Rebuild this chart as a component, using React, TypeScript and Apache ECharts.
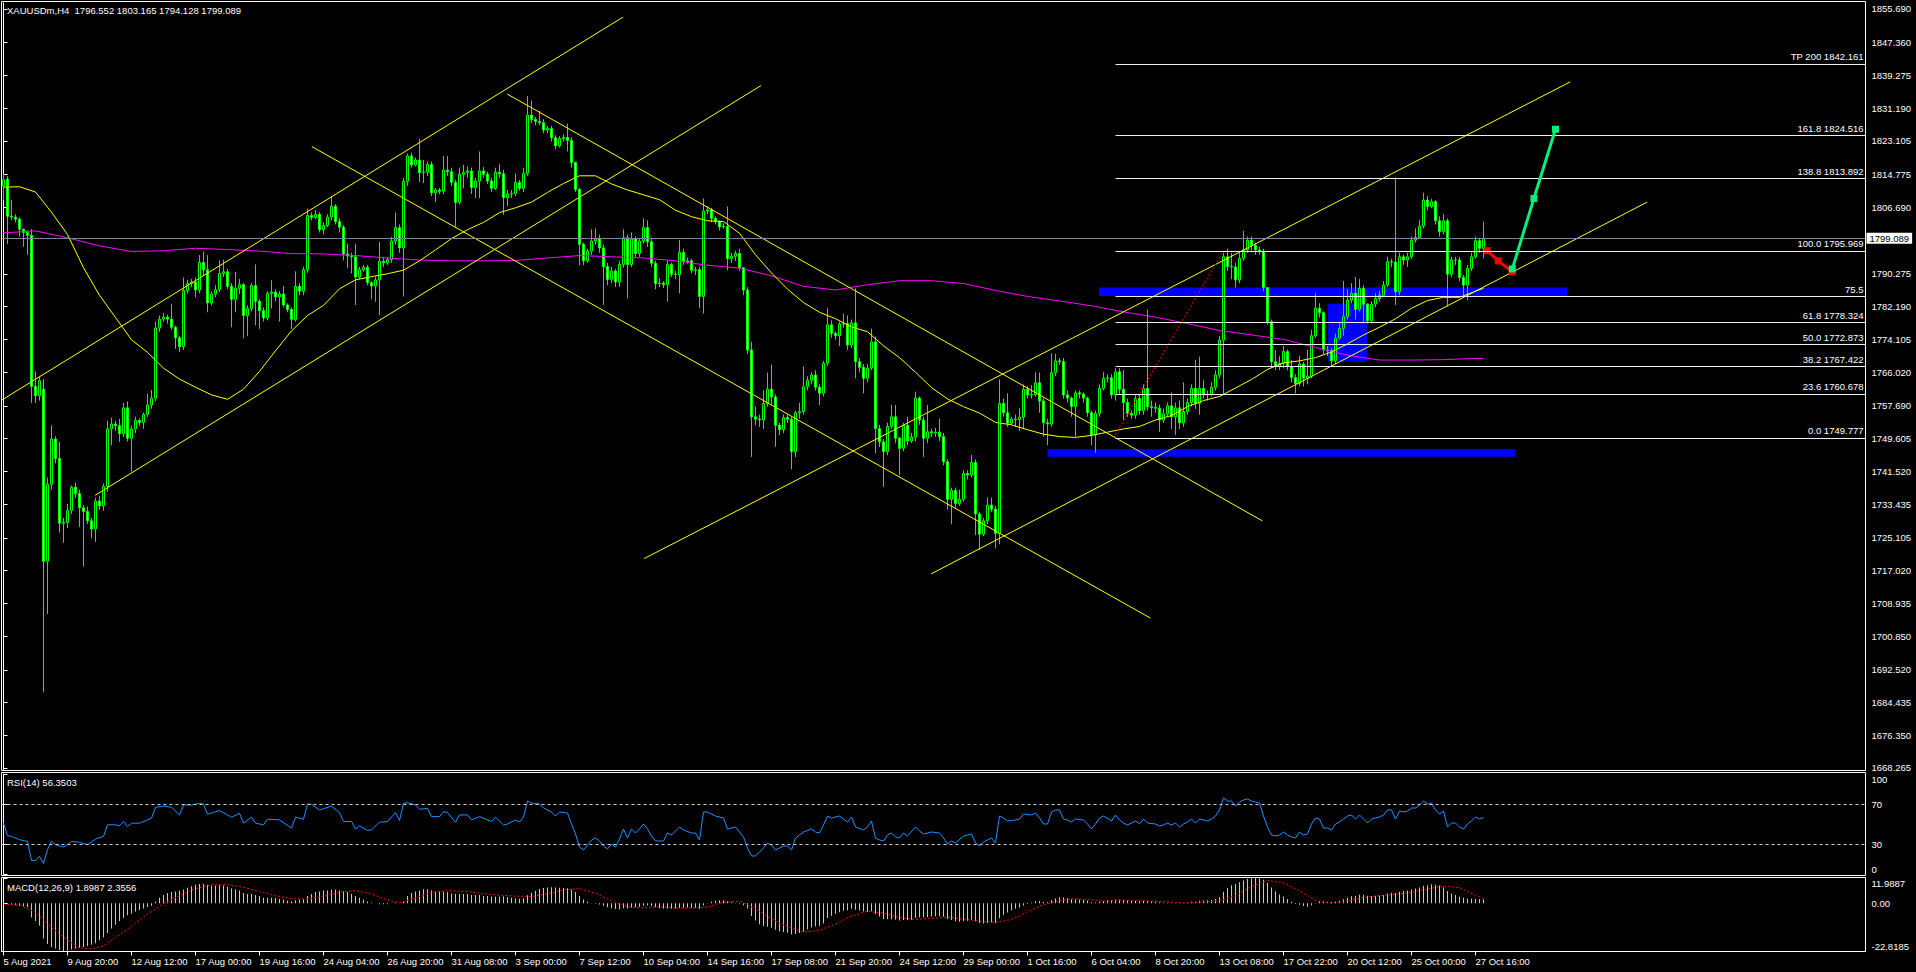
import React, { useEffect, useRef } from 'react';
import * as echarts from 'echarts';

const SYMBOL = 'XAUUSDm,H4';
const LAST_OHLC = ['1796.552', '1803.165', '1794.128', '1799.089'];
const CURRENT_PRICE = 1799.089;
const RSI_LAST = '56.3503';
const MACD_LAST = ['1.8987', '2.3556'];

const TIME_LABELS = ['5 Aug 2021', '9 Aug 20:00', '12 Aug 12:00', '17 Aug 00:00', '19 Aug 16:00', '24 Aug 04:00', '26 Aug 20:00', '31 Aug 08:00', '3 Sep 00:00', '7 Sep 12:00', '10 Sep 04:00', '14 Sep 16:00', '17 Sep 08:00', '21 Sep 20:00', '24 Sep 12:00', '29 Sep 00:00', '1 Oct 16:00', '6 Oct 04:00', '8 Oct 20:00', '13 Oct 08:00', '17 Oct 22:00', '20 Oct 12:00', '25 Oct 00:00', '27 Oct 16:00'];
const BARS_PER_LABEL = 16;
const TOTAL_SLOTS = 466;

const PRICE_TICKS = [1855.690, 1847.360, 1839.275, 1831.190, 1823.105, 1814.775, 1806.690, 1790.275, 1782.190, 1774.105, 1766.020, 1757.690, 1749.605, 1741.520, 1733.435, 1725.105, 1717.020, 1708.935, 1700.850, 1692.520, 1684.435, 1676.350, 1668.265];
const PRICE_MIN = 1667.77;
const PRICE_MAX = 1857.17;
const RSI_TICKS = [0, 30, 70, 100];
const RSI_LEVELS = [70, 30];
const MACD_MIN = -22.8185;
const MACD_MAX = 11.9887;

// [open, close, low, high]
const CANDLES_A = [
  [1812.0,1813.5,1808.6,1815.0],[1813.7,1804.5,1797.7,1814.5],[1804.5,1804.3,1803.6,1808.6],[1804.3,1803.8,1803.0,1805.0],[1803.8,1801.3,1799.5,1804.2],
  [1801.3,1800.5,1797.0,1801.5],[1800.5,1799.8,1795.0,1801.0],[1799.8,1762.5,1758.4,1801.3],[1762.5,1760.2,1758.4,1766.2],[1760.2,1763.9,1759.0,1764.9],
  [1761.8,1719.3,1687.0,1764.3],[1719.3,1738.3,1706.3,1740.0],[1738.3,1749.5,1737.0,1752.9],[1749.5,1744.7,1743.5,1750.2],[1744.7,1728.7,1726.4,1748.8],
  [1728.7,1728.9,1723.9,1730.0],[1728.9,1731.9,1727.5,1733.5],[1731.9,1737.6,1731.0,1738.0],[1737.6,1736.0,1735.0,1738.8],[1736.0,1732.5,1727.8,1737.0],
  [1732.5,1731.6,1718.0,1733.2],[1731.6,1729.3,1728.5,1732.8],[1729.3,1727.3,1725.0,1730.0],[1727.3,1734.2,1724.1,1735.0],[1734.2,1733.0,1732.0,1735.5],
  [1733.0,1737.8,1731.8,1738.5],[1737.8,1752.0,1736.5,1754.0],[1752.0,1753.2,1748.0,1754.8],[1753.2,1752.8,1751.5,1754.0],[1752.8,1750.8,1748.8,1754.5],
  [1750.8,1757.2,1750.0,1758.4],[1757.2,1749.7,1748.9,1758.8],[1749.7,1752.0,1741.5,1752.8],[1752.0,1754.1,1751.0,1755.0],[1754.1,1753.6,1752.8,1754.6],
  [1753.6,1755.6,1752.0,1756.0],[1755.6,1757.9,1755.0,1760.7],[1757.9,1759.6,1757.0,1761.6],[1759.6,1776.9,1758.8,1778.5],[1776.9,1779.1,1776.0,1780.0],
  [1779.1,1779.6,1778.5,1780.6],[1779.6,1779.1,1778.0,1780.2],[1779.1,1777.1,1776.5,1782.9],[1777.1,1774.5,1771.8,1777.5],[1774.5,1772.3,1771.0,1775.0],
  [1772.3,1786.2,1771.5,1789.4],[1786.2,1787.9,1785.5,1788.8],[1787.9,1788.3,1787.0,1789.0],[1788.3,1786.3,1784.5,1789.4],[1786.3,1793.1,1785.5,1794.9],
  [1793.1,1791.3,1790.0,1795.8],[1791.3,1783.1,1780.8,1794.9],[1783.1,1785.3,1782.5,1786.0],[1785.3,1786.4,1784.5,1787.5],[1786.4,1790.4,1785.8,1793.6],
  [1790.4,1790.8,1789.5,1793.8],[1790.8,1787.2,1786.5,1791.5],[1787.2,1784.0,1777.1,1788.0],[1784.0,1786.7,1780.8,1790.8],[1786.7,1787.6,1785.3,1789.0],
  [1787.6,1780.0,1774.4,1788.0],[1780.0,1781.7,1775.0,1782.5],[1781.7,1787.4,1781.0,1788.0],[1787.4,1783.5,1777.6,1792.6],[1783.5,1781.2,1776.7,1784.0],
  [1781.2,1779.4,1778.5,1782.0],[1779.4,1785.5,1778.8,1786.0],[1785.5,1785.8,1781.7,1788.7],[1785.8,1784.6,1783.5,1786.5],[1784.6,1785.3,1778.5,1786.0],
  [1785.3,1782.6,1782.0,1787.2],[1782.6,1781.5,1780.8,1783.0],[1781.5,1779.0,1776.7,1782.0],[1779.0,1787.2,1778.5,1790.9],[1787.2,1786.0,1785.0,1788.0],
  [1786.0,1791.3,1785.0,1792.0],[1791.3,1804.7,1790.5,1806.4],[1804.7,1804.2,1803.5,1805.5],[1804.2,1805.0,1803.8,1806.0],[1805.0,1801.2,1800.5,1805.5],
  [1801.2,1802.2,1800.0,1803.0],[1802.2,1804.3,1801.8,1805.0],[1804.3,1807.0,1803.5,1809.5],[1807.0,1803.2,1802.5,1807.5],[1803.2,1801.8,1800.5,1804.0],
  [1801.8,1795.2,1793.6,1802.3],[1795.2,1794.7,1791.7,1797.7],[1794.7,1794.5,1790.4,1795.5],[1794.5,1789.5,1782.6,1797.7],[1789.5,1791.3,1789.0,1792.0],
  [1791.3,1791.9,1790.8,1792.5],[1791.9,1788.1,1787.5,1792.5],[1788.1,1787.3,1784.0,1788.5]
];
const CANDLES_B = [
  [1787.3,1788.8,1783.4,1789.5],[1788.8,1793.4,1780.1,1798.2],[1793.4,1793.0,1792.0,1794.5],[1793.0,1793.8,1792.5,1794.5],[1793.8,1798.4,1793.0,1799.4],
  [1798.4,1801.7,1797.5,1805.4],[1801.7,1796.7,1795.5,1802.5],[1796.7,1813.1,1784.7,1814.0],[1813.1,1819.4,1812.0,1820.0],[1819.4,1817.2,1816.5,1820.2],
  [1817.2,1818.4,1816.8,1819.0],[1818.4,1815.3,1813.0,1823.6],[1815.3,1815.4,1812.7,1818.4],[1815.4,1817.3,1814.5,1818.0],[1817.3,1810.3,1809.5,1818.0],
  [1810.3,1811.0,1808.0,1811.5],[1811.0,1810.7,1810.0,1811.5],[1810.7,1815.9,1810.0,1819.4],[1815.9,1815.5,1814.5,1819.4],[1815.5,1812.9,1812.0,1816.5],
  [1812.9,1807.9,1801.9,1813.5],[1807.9,1814.9,1807.5,1816.5],[1814.9,1815.3,1811.4,1817.2],[1815.3,1815.7,1814.0,1816.8],[1815.7,1811.6,1810.0,1816.5],
  [1811.6,1813.2,1809.0,1814.0],[1813.2,1815.7,1809.0,1820.5],[1815.7,1814.9,1814.0,1816.7],[1814.9,1813.2,1812.5,1815.5],[1813.2,1811.4,1810.5,1814.0],
  [1811.4,1815.4,1811.0,1816.5],[1815.4,1815.0,1814.0,1817.4],[1815.0,1809.1,1804.9,1816.0],[1809.1,1810.0,1807.0,1811.0],[1810.0,1810.1,1809.0,1811.0],
  [1810.1,1812.9,1809.5,1815.1],[1812.9,1811.4,1810.8,1813.5],[1811.4,1815.1,1810.5,1816.5],[1815.1,1829.5,1814.5,1834.2],[1829.5,1828.4,1827.5,1833.0],
  [1828.4,1827.9,1827.0,1829.0],[1827.9,1827.6,1827.0,1830.5],[1827.6,1825.8,1825.0,1828.5],[1825.8,1826.2,1825.0,1826.8],[1826.2,1823.9,1823.0,1826.8],
  [1823.9,1821.9,1821.0,1824.5],[1821.9,1823.7,1821.5,1824.3],[1823.7,1824.0,1823.0,1824.8],[1824.0,1823.2,1820.5,1827.4],[1823.2,1817.8,1816.5,1824.0],
  [1817.8,1811.1,1810.5,1818.0],[1811.1,1797.6,1792.4,1811.5],[1797.6,1793.5,1792.5,1798.0],[1793.5,1795.9,1793.0,1796.5],[1795.9,1798.4,1795.0,1801.3],
  [1798.4,1799.1,1797.5,1801.5],[1799.1,1796.7,1795.5,1800.0],[1796.7,1792.1,1782.6,1797.5],[1792.1,1788.9,1787.5,1793.0],[1788.9,1791.0,1788.0,1792.0],
  [1791.0,1788.3,1787.0,1791.5],[1788.3,1792.6,1787.1,1793.5],[1792.6,1799.2,1791.8,1801.3],[1799.2,1792.6,1784.2,1800.0],[1792.6,1798.9,1792.0,1800.5],
  [1798.9,1795.3,1794.5,1799.5],[1795.3,1798.4,1794.5,1799.0],[1798.4,1801.7,1797.8,1804.0],[1801.7,1798.2,1797.0,1803.5],[1798.2,1792.9,1792.0,1799.0],
  [1792.9,1787.9,1786.5,1793.5],[1787.9,1788.0,1787.0,1789.2],[1788.0,1787.6,1786.8,1788.5],[1787.6,1792.6,1783.4,1793.5],[1792.6,1790.2,1789.5,1793.0],
  [1790.2,1790.1,1789.0,1791.0],[1790.1,1795.6,1785.5,1798.6],[1795.6,1793.3,1792.5,1796.5],[1793.3,1793.5,1792.8,1794.3],[1793.5,1791.2,1790.5,1794.0],
  [1791.2,1791.3,1790.0,1792.0],[1791.3,1784.7,1781.9,1792.0],[1784.7,1805.8,1780.5,1808.9],[1805.8,1806.1,1805.0,1807.0],[1806.1,1804.0,1803.0,1806.5],
  [1804.0,1803.2,1802.5,1804.5],[1803.2,1801.9,1801.0,1803.5],[1801.9,1802.0,1801.5,1802.8],[1802.0,1794.1,1791.2,1806.9],[1794.1,1794.6,1793.0,1795.5],
  [1794.6,1795.3,1793.5,1796.0],[1795.3,1791.8,1791.0,1796.5],[1791.8,1786.3,1785.0,1792.0],[1786.3,1771.5,1770.5,1787.0]
];
const CANDLES_C = [
  [1771.5,1755.0,1745.1,1773.5],[1755.0,1754.4,1753.0,1757.5],[1754.4,1754.2,1752.5,1755.5],[1754.2,1758.3,1752.0,1761.5],[1758.3,1761.8,1757.5,1765.9],
  [1761.8,1759.9,1758.0,1767.8],[1759.9,1752.9,1747.6,1760.5],[1752.9,1751.8,1750.5,1753.5],[1751.8,1754.8,1751.0,1755.5],[1754.8,1754.4,1753.5,1755.5],
  [1754.4,1746.4,1742.0,1755.0],[1746.4,1756.0,1745.0,1756.5],[1756.0,1756.3,1754.5,1758.4],[1756.3,1762.4,1755.5,1767.4],[1762.4,1764.0,1761.5,1765.0],
  [1764.0,1765.3,1763.0,1766.0],[1765.3,1762.3,1761.5,1766.5],[1762.3,1760.8,1757.9,1763.0],[1760.8,1768.2,1760.0,1768.8],[1768.2,1777.7,1767.5,1781.8],
  [1777.7,1775.6,1774.5,1778.8],[1775.6,1775.0,1774.0,1776.0],[1775.0,1777.9,1772.5,1778.5],[1777.9,1778.0,1777.0,1780.5],[1778.0,1772.7,1771.5,1780.0],
  [1772.7,1778.2,1772.0,1779.0],[1778.2,1768.6,1764.5,1786.7],[1768.6,1767.2,1766.0,1769.5],[1767.2,1764.5,1760.8,1768.0],[1764.5,1767.0,1763.5,1768.0],
  [1767.0,1773.5,1766.5,1776.8],[1773.5,1752.1,1746.0,1774.8],[1752.1,1748.8,1747.5,1753.0],[1748.8,1746.4,1737.7,1749.5],[1746.4,1752.6,1745.5,1753.5],
  [1752.6,1755.0,1752.0,1757.9],[1755.0,1749.7,1748.5,1757.9],[1749.7,1747.2,1740.6,1750.0],[1747.2,1752.9,1746.5,1753.5],[1752.9,1749.0,1748.0,1755.0],
  [1749.0,1750.0,1748.5,1751.0],[1750.0,1759.6,1749.0,1761.2],[1759.6,1754.2,1753.0,1760.0],[1754.2,1749.7,1745.1,1755.0],[1749.7,1751.3,1748.5,1757.9],
  [1751.3,1751.0,1750.0,1752.0],[1751.0,1751.2,1750.0,1752.2],[1751.2,1750.1,1749.0,1754.6],[1750.1,1743.9,1743.0,1751.0],[1743.9,1734.6,1732.1,1744.5],
  [1734.6,1736.8,1728.5,1737.5],[1736.8,1733.6,1732.5,1737.5],[1733.6,1734.6,1733.0,1737.0],[1734.6,1741.0,1734.0,1741.8],[1741.0,1740.6,1739.5,1741.8],
  [1740.6,1743.7,1740.0,1745.6],[1743.7,1731.0,1725.8,1744.5],[1731.0,1726.0,1722.1,1731.5],[1726.0,1729.3,1725.5,1730.0],[1729.3,1733.2,1728.5,1735.1],
  [1733.2,1732.2,1731.5,1735.0],[1732.2,1726.2,1722.5,1733.0],[1726.2,1758.3,1723.5,1764.2],[1758.3,1756.0,1755.0,1759.5],[1756.0,1753.4,1752.5,1760.8],
  [1753.4,1754.4,1753.0,1755.0],[1754.4,1754.3,1752.5,1755.5],[1754.3,1754.9,1751.5,1757.0],[1754.9,1761.8,1752.0,1763.0],[1761.8,1760.4,1759.5,1762.5],
  [1760.4,1760.5,1759.5,1762.8],[1760.5,1763.4,1760.0,1766.0],[1763.4,1758.9,1756.0,1765.9],[1758.9,1753.5,1750.1,1759.5],[1753.5,1753.2,1748.0,1754.5],
  [1753.2,1765.9,1752.5,1770.7],[1765.9,1768.8,1765.0,1770.5],[1768.8,1768.6,1767.8,1769.5],[1768.6,1760.4,1759.5,1769.5],[1760.4,1759.6,1758.5,1761.5],
  [1759.6,1757.5,1755.0,1760.0],[1757.5,1760.9,1750.1,1761.5],[1760.9,1760.6,1759.5,1761.5],[1760.6,1759.6,1758.5,1761.0],[1759.6,1756.0,1755.0,1760.0],
  [1756.0,1750.5,1748.0,1756.5],[1750.5,1755.8,1746.1,1756.5],[1755.8,1762.0,1755.0,1763.0],[1762.0,1764.5,1761.5,1766.0],[1764.5,1764.6,1763.5,1765.5],
  [1764.6,1760.4,1759.5,1765.5],[1760.4,1766.1,1759.0,1767.0],[1766.1,1761.8,1760.5,1767.0]
];
const CANDLES_D = [
  [1761.8,1758.5,1754.2,1766.5],[1758.5,1755.8,1755.0,1759.5],[1755.8,1755.4,1754.5,1756.5],[1755.4,1759.5,1754.5,1760.5],[1759.5,1756.5,1755.5,1760.5],
  [1756.5,1762.0,1755.5,1763.0],[1762.0,1757.5,1756.5,1781.5],[1757.5,1757.3,1755.0,1759.0],[1757.3,1757.1,1756.0,1758.5],[1757.1,1754.2,1751.3,1758.0],
  [1754.2,1755.7,1753.5,1757.0],[1755.7,1757.7,1755.0,1758.5],[1757.7,1755.0,1752.0,1761.0],[1755.0,1757.2,1750.5,1758.5],[1757.2,1753.5,1752.0,1759.0],
  [1753.5,1756.3,1752.5,1763.5],[1756.3,1758.5,1755.5,1759.5],[1758.5,1762.0,1757.5,1763.0],[1762.0,1758.3,1757.0,1769.0],[1758.3,1762.0,1755.5,1769.8],
  [1762.0,1760.4,1759.5,1764.0],[1760.4,1760.5,1759.0,1761.5],[1760.5,1762.3,1760.0,1763.5],[1762.3,1765.3,1761.5,1766.5],[1765.3,1773.9,1764.5,1775.0],
  [1773.9,1794.5,1760.4,1795.5],[1794.5,1792.1,1791.0,1796.5],[1792.1,1792.0,1789.0,1795.5],[1792.0,1788.8,1786.9,1793.0],[1788.8,1794.1,1788.0,1795.5],
  [1794.1,1796.2,1793.5,1800.9],[1796.2,1798.6,1795.5,1799.5],[1798.6,1797.3,1796.0,1799.5],[1797.3,1796.2,1795.0,1798.0],[1796.2,1795.8,1795.0,1797.0],
  [1795.8,1786.9,1786.0,1796.5],[1786.9,1778.5,1777.8,1787.0],[1778.5,1768.6,1767.0,1779.0],[1768.6,1767.5,1766.5,1771.5],[1767.5,1768.2,1766.5,1770.0],
  [1768.2,1771.1,1767.0,1772.5],[1771.1,1767.4,1766.5,1771.6],[1767.4,1764.7,1763.5,1769.0],[1764.7,1763.2,1760.8,1765.5],[1763.2,1768.0,1762.5,1770.0],
  [1768.0,1764.5,1762.5,1768.5],[1764.5,1765.0,1763.0,1771.5],[1765.0,1775.0,1764.5,1776.5],[1775.0,1781.8,1774.5,1785.5],[1781.8,1780.7,1779.5,1783.0],
  [1780.7,1771.5,1770.5,1781.0],[1771.5,1771.3,1770.0,1772.5],[1771.3,1768.8,1767.5,1772.0],[1768.8,1774.4,1768.0,1775.5],[1774.4,1776.8,1774.0,1778.0],
  [1776.8,1779.7,1775.0,1788.5],[1779.7,1783.8,1779.0,1786.5],[1783.8,1785.5,1783.0,1788.0],[1785.5,1781.5,1779.0,1789.5],[1781.5,1786.7,1781.0,1789.0],
  [1786.7,1782.8,1778.5,1787.5],[1782.8,1778.7,1778.0,1783.0],[1778.7,1782.8,1778.0,1783.5],[1782.8,1784.2,1782.0,1785.5],[1784.2,1785.0,1783.5,1786.0],
  [1785.0,1787.5,1784.5,1788.5],[1787.5,1793.3,1787.0,1794.5],[1793.3,1793.2,1792.0,1794.0],[1793.2,1785.9,1782.6,1814.1],[1785.9,1794.5,1785.0,1795.5],
  [1794.5,1793.7,1792.5,1795.0],[1793.7,1794.5,1792.0,1795.5],[1794.5,1798.6,1794.0,1799.5],[1798.6,1799.3,1798.0,1801.5],[1799.3,1802.1,1799.0,1803.5],
  [1802.1,1808.5,1801.5,1810.3],[1808.5,1806.9,1806.0,1809.5],[1806.9,1808.1,1806.5,1808.8],[1808.1,1803.4,1802.5,1808.5],[1803.4,1800.7,1799.5,1804.5],
  [1800.7,1803.4,1800.0,1805.0],[1803.4,1790.2,1782.2,1804.0],[1790.2,1793.7,1789.5,1794.5],[1793.7,1793.7,1792.5,1794.5],[1793.7,1789.4,1788.5,1794.5],
  [1789.4,1787.5,1785.0,1790.0],[1787.5,1791.6,1783.8,1792.5],[1791.6,1794.5,1791.0,1795.5],[1794.5,1798.5,1794.0,1799.5],[1798.5,1796.6,1795.5,1799.0],
  [1796.552,1799.089,1794.128,1803.165]
];

// moving averages read at sampled bars: [bar, value]
const MA_YELLOW = [[0,1811.7],[4,1811.8],[8,1810.5],[12,1805.5],[16,1800.0],[20,1791.8],[24,1785.0],[28,1779.5],[32,1774.0],[36,1770.9],[40,1767.0],[44,1764.3],[48,1762.3],[52,1760.4],[56,1759.3],[60,1761.8],[64,1766.2],[68,1771.3],[72,1776.2],[76,1780.0],[80,1782.5],[84,1786.6],[88,1788.8],[92,1789.6],[96,1790.3],[100,1791.2],[104,1793.5],[108,1796.2],[112,1799.0],[116,1801.2],[120,1803.0],[124,1805.4],[128,1806.6],[132,1808.0],[136,1810.4],[140,1812.6],[144,1814.5],[148,1814.5],[152,1812.5],[156,1811.0],[160,1809.8],[164,1808.6],[168,1806.0],[172,1804.4],[176,1803.4],[180,1803.2],[184,1800.3],[188,1795.0],[192,1790.5],[196,1786.5],[200,1783.2],[204,1780.8],[208,1779.2],[212,1777.2],[216,1776.0],[220,1772.5],[224,1769.6],[228,1766.0],[232,1762.2],[236,1759.4],[240,1757.5],[244,1755.9],[248,1753.6],[252,1753.0],[256,1751.8],[260,1750.7],[264,1750.1],[268,1749.9],[272,1750.4],[276,1751.2],[280,1752.0],[284,1752.6],[288,1754.2],[292,1755.3],[296,1757.5],[300,1759.0],[304,1760.0],[308,1762.1],[312,1764.2],[316,1766.7],[320,1768.3],[324,1768.8],[328,1769.6],[332,1771.0],[336,1773.0],[340,1775.2],[344,1777.1],[348,1779.2],[352,1781.8],[356,1783.7],[360,1784.5],[364,1784.5],[368,1786.0],[370,1786.7]];
const MA_MAGENTA = [[0,1800.4],[8,1800.9],[16,1799.2],[24,1797.2],[32,1795.8],[40,1796.0],[48,1796.6],[56,1796.3],[64,1795.9],[72,1795.3],[80,1795.2],[88,1794.8],[96,1794.2],[104,1793.7],[112,1793.5],[120,1793.5],[128,1793.6],[136,1794.2],[144,1794.8],[152,1794.5],[160,1794.2],[168,1793.5],[176,1792.4],[184,1791.7],[192,1789.8],[200,1787.2],[208,1786.3],[216,1787.6],[224,1788.6],[232,1788.6],[240,1787.9],[248,1786.2],[256,1784.7],[264,1783.6],[272,1782.4],[280,1780.9],[288,1779.6],[296,1778.0],[304,1776.3],[312,1775.2],[320,1774.1],[328,1772.1],[336,1770.2],[344,1769.0],[352,1769.0],[360,1769.1],[368,1769.4],[370,1769.4]];

const RSI_POINTS = [[0,50.8],[1,38.3],[2,37.6],[4,34.3],[6,32.6],[7,13.5],[8,13.5],[9,17.8],[10,10.5],[11,24.4],[12,32.6],[13,29.3],[15,27],[16,29.3],[17,32.6],[19,31.7],[21,29.3],[23,35],[25,37.6],[26,49.2],[28,49.2],[29,48.2],[30,52.5],[31,47.5],[32,50.8],[34,50.8],[36,54.1],[37,55.8],[38,66.7],[40,68],[42,66.7],[44,59.1],[45,69],[47,69],[49,70.7],[50,70],[51,59.8],[54,63.4],[56,59.1],[57,56.8],[59,60.7],[60,50.8],[62,56.8],[63,50.8],[65,49.2],[66,54.8],[69,54.1],[72,45.9],[73,56.8],[75,54.8],[76,70],[77,69.7],[79,64],[82,68],[84,61.4],[85,52.5],[87,52.5],[88,44.9],[89,48.2],[91,43.6],[92,44.2],[94,51.8],[96,52.5],[98,61.4],[99,53.5],[100,70.7],[101,71.3],[103,69],[104,64.7],[106,65.7],[107,57.4],[109,57.4],[110,62.4],[111,61.4],[113,51.8],[114,59.1],[116,59.1],[117,54.1],[119,57.4],[122,52.5],[123,56.8],[125,49],[126,50],[128,54],[129,52],[130,57],[131,73],[132,71],[134,70],[135,66],[137,62],[138,58],[139,62],[141,61],[142,50],[143,40],[144,27],[145,24],[146,29],[147,34],[148,36],[149,33],[150,28],[151,25],[152,30],[153,27],[154,35],[155,45],[156,36],[157,45],[158,41],[159,45],[160,50],[161,45],[162,38],[163,33],[165,33],[166,41],[167,39],[169,47],[170,44],[172,41],[173,41],[174,34],[175,62],[176,62],[178,58],[180,56],[181,45],[183,47],[184,42],[185,37],[186,26],[187,18],[188,18],[190,26],[191,31],[192,29],[193,24],[195,28],[196,28],[197,24],[198,36],[200,42],[202,45],[203,42],[204,41],[205,49],[206,58],[207,56],[209,58],[211,52],[212,57],[213,47],[215,44],[216,47],[217,53],[218,36],[219,34],[220,33],[221,39],[222,41],[223,37],[224,36],[225,41],[226,38],[228,47],[229,43],[230,40],[232,42],[234,41],[235,36],[236,30],[237,33],[238,31],[240,38],[242,40],[243,31],[244,28],[245,32],[247,36],[248,31],[249,58],[250,56],[251,53],[253,54],[254,55],[255,60],[257,59],[258,61],[259,56],[260,50],[261,50],[262,62],[263,64],[264,64],[265,55],[266,54],[267,52],[268,55],[270,54],[271,50],[272,45],[273,50],[274,56],[275,58],[277,53],[278,59],[279,54],[280,51],[281,49],[283,53],[284,50],[285,55],[286,51],[288,50],[289,48],[290,49],[291,51],[292,49],[293,51],[294,47],[295,50],[296,52],[297,55],[298,51],[299,55],[301,53],[302,55],[303,58],[304,64],[305,76],[306,73],[307,73],[308,68],[309,72],[310,74],[311,75],[312,73],[313,72],[314,71],[315,58],[316,47],[317,39],[318,38],[319,39],[320,42],[321,39],[322,37],[323,36],[324,42],[325,39],[326,40],[327,50],[328,56],[329,55],[330,46],[331,46],[332,44],[333,50],[334,52],[335,55],[336,58],[337,59],[338,55],[339,59],[340,55],[341,51],[342,55],[343,56],[344,57],[345,59],[346,64],[347,64],[348,55],[349,63],[350,62],[351,63],[352,66],[353,66],[354,69],[355,73],[356,70],[357,71],[358,64],[359,60],[360,63],[361,47],[362,51],[363,51],[364,47],[365,45],[366,50],[367,53],[368,57],[369,55],[370,56.35]];

const MACD_HIST = [
  -0.2,-0.4,-0.6,-0.9,-1.2,-1.5,-1.8,-6.7,-8.4,-10.5,
  -16.7,-19.3,-20.7,-21.4,-22.1,-22.8,-22.5,-21.9,-21.4,-21.1,
  -20.7,-20.2,-19.6,-18.9,-17.5,-16.1,-14.0,-11.9,-10.2,-8.4,
  -7.0,-5.6,-4.9,-3.9,-3.2,-2.5,-1.8,-1.1,0.9,2.6,
  3.9,4.9,5.3,5.6,6.0,6.5,7.4,8.1,8.8,9.1,
  9.1,8.8,8.4,8.4,8.8,8.4,7.9,7.0,6.7,6.1,
  4.9,4.4,4.4,3.9,3.5,2.6,2.6,2.6,2.6,2.1,
  1.8,1.2,0.9,1.4,1.8,2.1,3.5,4.4,5.3,5.6,
  6.1,6.1,6.5,6.5,6.1,5.6,5.3,4.4,3.5,2.6,
  1.8,0.9,0.4,0.0,-0.4,-0.5,-0.4,0.0,0.4,0.0,
  0.9,3.5,4.9,5.6,6.1,6.7,6.7,6.1,5.6,5.6,
  5.6,5.3,4.7,4.4,4.4,4.4,4.4,3.9,3.9,3.9,
  3.5,3.5,3.2,3.2,3.2,3.4,3.0,2.6,2.4,2.2,
  2.3,3.8,5.0,6.0,6.8,7.2,7.5,7.6,7.5,7.4,
  7.3,7.1,6.5,5.4,3.5,1.8,0.8,0.2,-0.2,-0.6,
  -1.2,-1.9,-2.3,-2.7,-2.8,-2.3,-2.4,-2.0,-1.9,-1.6,
  -1.1,-1.0,-1.3,-1.9,-2.3,-2.6,-2.5,-2.6,-2.6,-2.2,
  -2.1,-2.0,-2.1,-2.1,-2.6,-1.0,0.2,0.8,1.2,1.4,
  1.5,0.9,0.5,0.2,-0.2,-0.9,-2.5,-6.0,-8.1,-9.9,
  -10.8,-11.1,-11.6,-12.5,-13.3,-13.6,-13.9,-14.6,-14.5,-14.1,
  -13.3,-12.4,-11.5,-11.0,-10.6,-9.6,-7.0,-5.9,-5.0,-4.2,
  -3.5,-3.3,-2.6,-3.0,-3.4,-3.9,-4.1,-3.8,-5.1,-6.3,
  -7.4,-7.6,-7.5,-7.8,-8.1,-7.9,-7.9,-7.8,-6.9,-6.6,
  -6.7,-6.5,-6.3,-6.1,-6.0,-6.4,-7.4,-7.9,-8.4,-8.7,
  -8.5,-8.3,-7.8,-8.5,-9.3,-9.5,-9.3,-9.1,-9.4,-7.1,
  -5.4,-4.3,-3.4,-2.6,-2.0,-1.0,-0.3,0.4,1.0,1.1,
  0.8,0.5,1.4,2.3,2.9,2.7,2.4,2.0,1.9,1.8,
  1.6,1.2,0.5,0.4,0.7,1.1,1.4,1.4,1.8,1.8,
  1.7,1.4,1.1,1.2,1.0,1.3,1.1,0.9,0.7,0.4,
  0.3,0.3,0.1,0.1,-0.1,0.1,0.3,0.7,0.8,1.2,
  1.3,1.4,1.6,2.0,2.9,5.5,7.3,8.6,9.2,10.0,
  10.8,11.5,11.9,11.99,11.9,11.2,9.6,7.5,5.7,4.2,
  3.2,2.0,0.8,-0.3,-0.7,-1.3,-1.6,-0.9,0.2,1.0,
  0.9,0.8,0.6,0.9,1.3,1.9,2.6,3.3,3.5,4.0,
  4.0,3.6,3.5,3.6,3.7,3.9,4.6,5.0,4.9,5.5,
  5.8,6.1,6.6,7.0,7.5,8.3,8.6,9.0,8.8,8.4,
  7.6,5.8,4.6,3.9,3.2,2.6,2.3,2.2,2.2,2.0,
  1.9
];
const MACD_SIGNAL = [[0,-0.4],[4,-0.9],[8,-4.2],[12,-11.5],[16,-17.5],[19,-21.1],[22,-21.6],[25,-20.2],[28,-16.3],[32,-10.8],[36,-5.0],[40,-0.2],[44,3.6],[48,7.0],[52,8.8],[56,8.8],[60,7.6],[64,5.6],[68,3.6],[72,2.3],[76,1.9],[80,3.5],[84,5.3],[88,6.0],[92,4.4],[96,1.6],[99,0.2],[103,2.6],[107,5.1],[111,6.1],[116,5.6],[120,4.5],[124,3.9],[128,3.4],[132,3.2],[136,4.5],[140,6.4],[144,7.0],[148,4.8],[152,1.2],[156,-1.6],[160,-2.2],[164,-1.6],[168,-2.3],[172,-2.3],[176,-1.8],[180,0.5],[184,1.0],[188,-2.5],[192,-7.5],[196,-11.0],[200,-13.6],[204,-12.8],[208,-9.8],[212,-6.0],[216,-3.8],[220,-4.6],[224,-6.8],[228,-7.7],[232,-7.1],[236,-6.5],[240,-7.5],[244,-8.4],[248,-9.0],[252,-7.7],[256,-4.0],[260,-0.6],[264,1.3],[268,2.2],[272,1.6],[276,1.0],[280,1.5],[284,1.4],[288,1.0],[292,0.5],[296,0.1],[300,0.6],[304,1.3],[308,3.6],[312,8.0],[316,10.8],[320,9.8],[324,5.8],[328,1.4],[332,0.0],[336,1.0],[340,2.8],[344,3.6],[348,4.2],[352,5.2],[356,6.8],[360,8.2],[364,7.4],[368,3.8],[370,2.3556]];

// Fibonacci levels
const FIB_NAMES = ['TP 200', '161.8', '138.8', '100.0', '75.5', '61.8', '50.0', '38.2', '23.6', '0.0'];
const FIB_PRICES = [1842.161, 1824.516, 1813.892, 1795.969, 1784.652, 1778.324, 1772.873, 1767.422, 1760.678, 1749.777];
const FIB_PRICE_SHOWN = [true, true, true, true, false, true, true, true, true, true];
const FIB_START_BAR = 278;
const FIB_DIAGONAL = [[277.5, 1749.777], [305, 1795.969]];

// trend lines: [bar1, price1, bar2, price2]
const TRENDLINES = [
  [-0.8, 1758.9, 154.9, 1853.7],
  [22.9, 1735.6, 189.4, 1836.8],
  [125.9, 1834.7, 314.7, 1729.3],
  [77.1, 1821.7, 286.7, 1705.3],
  [160.2, 1720.0, 391.7, 1837.7],
  [231.9, 1716.2, 410.9, 1808.0]
];
// blue zones: [bar1, priceTop, bar2, priceBottom]
const ZONES = [
  [273.9, 1786.9, 390.9, 1784.8],
  [261.0, 1746.96, 378.0, 1745.14],
  [331.1, 1782.9, 340.9, 1768.6]
];
const PROJ_RED = [[370.9, 1796.0], [373.7, 1793.5], [377.2, 1790.8]];
const PROJ_GREEN = [[377.2, 1791.5], [382.6, 1808.9], [388.0, 1826.0]];

const FONT = "'Liberation Sans', Arial, sans-serif";
const W = 1916;
const H = 972;
const GRID_LEFT = 1.5;
const GRID_WIDTH = 1864;

export default function App() {
  const ref = useRef<HTMLDivElement>(null);
  useEffect(() => {
    document.body.style.margin = '0';
    document.body.style.background = '#000';
    const chart = echarts.init(ref.current as HTMLDivElement, undefined, { renderer: 'svg', width: W, height: H });
    const allCandles = [...CANDLES_A, ...CANDLES_B, ...CANDLES_C, ...CANDLES_D];
    const candleData = allCandles.map((c, i) => [i, c[0], c[1], c[2], c[3]]);
    const macdData = MACD_HIST.map((v, i) => [i, v]);
    const tickBars = TIME_LABELS.map((_, k) => k * BARS_PER_LABEL);
    const white = '#ffffff';
    const xMin = -0.5;
    const xMax = TOTAL_SLOTS - 0.5;
    const labelFont = { color: white, fontSize: 9.5, fontFamily: FONT };

    const hiddenX = (gi: number) => ({ gridIndex: gi, type: 'value', min: xMin, max: xMax, show: false });

    const series: any[] = [];
    series.push({
      type: 'line', xAxisIndex: 0, yAxisIndex: 0, data: [], z: 1, silent: true,
      markArea: {
        silent: true,
        itemStyle: { color: '#0000ff', opacity: 1 },
        data: ZONES.map((zn) => [{ coord: [zn[0], zn[1]] }, { coord: [zn[2], zn[3]] }]),
      },
      markLine: {
        silent: true, symbol: 'none', animation: false,
        data: [{
          yAxis: CURRENT_PRICE,
          lineStyle: { color: '#7b8794', width: 1, type: 'solid' },
          label: { show: true, position: 'end', formatter: CURRENT_PRICE.toFixed(3), backgroundColor: '#ffffff', color: '#000000', fontSize: 9.5, fontFamily: FONT, padding: [1, 3, 0, 3], distance: 1 },
        }],
      },
    });
    series.push({
      type: 'candlestick', xAxisIndex: 0, yAxisIndex: 0, z: 2,
      dimensions: ['x', 'open', 'close', 'low', 'high'],
      encode: { x: 'x', y: ['open', 'close', 'low', 'high'] },
      data: candleData,
      barWidth: 2,
      itemStyle: { color: '#000000', color0: '#ffffff', borderColor: '#00ff00', borderColor0: '#00ff00', borderColorDoji: '#00ff00', borderWidth: 1 },
    });
    series.push({
      type: 'line', xAxisIndex: 0, yAxisIndex: 0, data: [], z: 3, silent: true,
      markLine: {
        silent: true, symbol: 'none', animation: false,
        data: FIB_PRICES.map((p, k) => [
          {
            coord: [FIB_START_BAR, p],
            lineStyle: { color: '#f0f0f0', width: 1, type: 'solid' },
            label: { show: true, position: 'insideEndTop', formatter: FIB_PRICE_SHOWN[k] ? FIB_NAMES[k] + ' ' + p.toFixed(3) : FIB_NAMES[k], distance: 2, ...labelFont },
          },
          { coord: [xMax, p] },
        ]),
      },
    });
    series.push({ type: 'line', xAxisIndex: 0, yAxisIndex: 0, z: 3, data: MA_MAGENTA, symbol: 'none', silent: true, lineStyle: { color: '#ff00ff', width: 1 } });
    series.push({ type: 'line', xAxisIndex: 0, yAxisIndex: 0, z: 3, data: MA_YELLOW, symbol: 'none', silent: true, lineStyle: { color: '#ffff00', width: 1 } });
    TRENDLINES.forEach((t) => {
      series.push({ type: 'line', xAxisIndex: 0, yAxisIndex: 0, z: 3, data: [[t[0], t[1]], [t[2], t[3]]], symbol: 'none', silent: true, lineStyle: { color: '#ffff00', width: 1 } });
    });
    series.push({ type: 'line', xAxisIndex: 0, yAxisIndex: 0, z: 3, data: FIB_DIAGONAL, symbol: 'none', silent: true, lineStyle: { color: '#ff0000', width: 1, type: [2, 2] } });
    series.push({ type: 'line', xAxisIndex: 0, yAxisIndex: 0, z: 4, data: PROJ_RED, symbol: 'rect', symbolSize: 7, silent: true, itemStyle: { color: '#ff0000' }, lineStyle: { color: '#ff0000', width: 3 } });
    series.push({ type: 'line', xAxisIndex: 0, yAxisIndex: 0, z: 5, data: PROJ_GREEN, symbol: 'rect', symbolSize: 7, silent: true, itemStyle: { color: '#00f07a' }, lineStyle: { color: '#00f07a', width: 3 } });

    series.push({
      type: 'line', xAxisIndex: 1, yAxisIndex: 1, data: RSI_POINTS, symbol: 'none', silent: true, z: 3,
      lineStyle: { color: '#1e90ff', width: 1 },
      markLine: {
        silent: true, symbol: 'none', animation: false,
        lineStyle: { color: '#d0d0d0', width: 1, type: [3, 3] },
        label: { show: false },
        data: RSI_LEVELS.map((v) => ({ yAxis: v })),
      },
    });
    series.push({ type: 'bar', xAxisIndex: 2, yAxisIndex: 2, data: macdData, barWidth: 1, silent: true, itemStyle: { color: '#c8c8c8' }, z: 2 });
    series.push({ type: 'line', xAxisIndex: 2, yAxisIndex: 2, data: MACD_SIGNAL, symbol: 'none', silent: true, z: 3, lineStyle: { color: '#ff0000', width: 1, type: [2, 2] } });

    const frame = (y: number, h: number) => ({
      type: 'rect', silent: true, z: 100,
      shape: { x: 1.5, y, width: GRID_WIDTH, height: h },
      style: { fill: 'none', stroke: white, lineWidth: 1 },
    });

    const option: any = {
      animation: false,
      backgroundColor: '#000000',
      textStyle: { fontFamily: FONT },
      grid: [
        { left: GRID_LEFT, top: 3, width: GRID_WIDTH, height: 767 },
        { left: GRID_LEFT, top: 774, width: GRID_WIDTH, height: 100 },
        { left: GRID_LEFT, top: 878, width: GRID_WIDTH, height: 73.5 },
      ],
      xAxis: [
        hiddenX(0),
        hiddenX(1),
        {
          gridIndex: 2, type: 'value', min: xMin, max: xMax, position: 'bottom',
          axisLine: { show: true, onZero: false, lineStyle: { color: white, width: 1 } },
          axisTick: { show: true, customValues: tickBars, length: 4, lineStyle: { color: white } },
          axisLabel: { show: true, customValues: tickBars, formatter: (v: number) => TIME_LABELS[Math.round(v / BARS_PER_LABEL)] || '', align: 'left', margin: 5, ...labelFont },
          splitLine: { show: false },
        },
      ],
      yAxis: [
        {
          gridIndex: 0, type: 'value', position: 'right', min: PRICE_MIN, max: PRICE_MAX,
          axisLine: { show: true, lineStyle: { color: white } },
          axisTick: { show: true, customValues: PRICE_TICKS, length: 4, lineStyle: { color: white } },
          axisLabel: { show: true, customValues: PRICE_TICKS, formatter: (v: number) => v.toFixed(3), margin: 6, ...labelFont },
          splitLine: { show: false },
        },
        {
          gridIndex: 1, type: 'value', position: 'right', min: 0, max: 100,
          axisLine: { show: true, lineStyle: { color: white } },
          axisTick: { show: true, customValues: RSI_TICKS, length: 4, lineStyle: { color: white } },
          axisLabel: { show: true, customValues: RSI_TICKS, formatter: (v: number) => String(v), margin: 6, verticalAlignMinLabel: 'bottom', verticalAlignMaxLabel: 'top', ...labelFont },
          splitLine: { show: false },
        },
        {
          gridIndex: 2, type: 'value', position: 'right', min: MACD_MIN, max: MACD_MAX,
          axisLine: { show: true, lineStyle: { color: white } },
          axisTick: { show: true, customValues: [MACD_MIN, 0, MACD_MAX], length: 4, lineStyle: { color: white } },
          axisLabel: { show: true, customValues: [MACD_MIN, 0, MACD_MAX], formatter: (v: number) => (v === 0 ? '0.00' : v.toFixed(4)), margin: 6, verticalAlignMinLabel: 'bottom', verticalAlignMaxLabel: 'top', ...labelFont },
          splitLine: { show: false },
        },
      ],
      graphic: [
        frame(1.5, 769),
        frame(772.5, 103),
        frame(877.5, 74),
        { type: 'text', x: 7, y: 5, silent: true, z: 101, style: { text: SYMBOL + '  ' + LAST_OHLC.join(' '), fill: white, fontSize: 9.5, fontFamily: FONT, verticalAlign: 'top' } },
        { type: 'text', x: 7, y: 777, silent: true, z: 101, style: { text: 'RSI(14) ' + RSI_LAST, fill: white, fontSize: 9.5, fontFamily: FONT, verticalAlign: 'top' } },
        { type: 'text', x: 7, y: 882, silent: true, z: 101, style: { text: 'MACD(12,26,9) ' + MACD_LAST.join(' '), fill: white, fontSize: 9.5, fontFamily: FONT, verticalAlign: 'top' } },
      ],
      series,
    };
    chart.setOption(option);
    return () => chart.dispose();
  }, []);
  return <div ref={ref} style={{ position: 'fixed', left: 0, top: 0, width: W, height: H, background: '#000' }} />;
}
